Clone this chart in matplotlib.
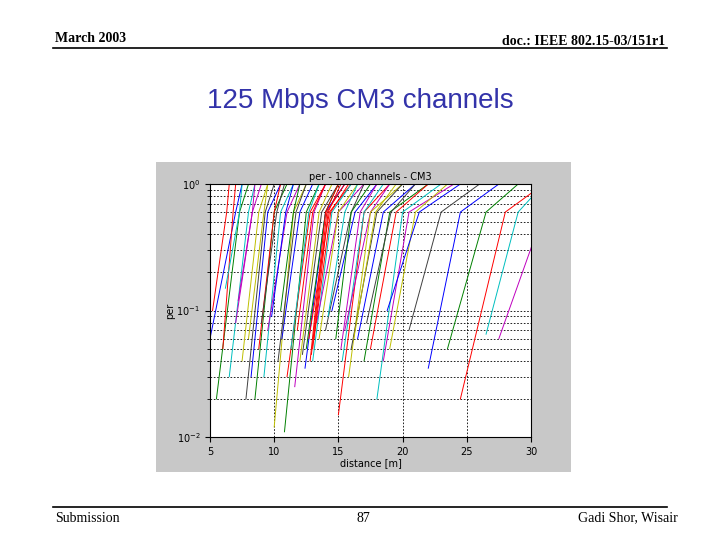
import matplotlib
matplotlib.use("Agg")
import matplotlib.pyplot as plt
from matplotlib.lines import Line2D

# per curve: distance at low PER, low PER value, distance at PER~0.6, distance at PER=1
d_low = [5.0,5.5,6.0,6.5,7.0,7.5,7.8,8.2,8.5,8.8,9.2,9.5,10.0,10.3,10.6,10.8,11.0,11.3,11.6,12.0,
         12.2,12.4,12.5,12.7,13.0,13.3,13.5,14.0,14.5,14.8,15.0,15.3,15.5,15.8,16.0,16.5,17.0,17.5,18.0,18.5,
         19.0,20.5,22.0,23.5,24.5,26.5,27.5,12.8,13.0,12.9,13.1,5.2,6.2,7.2,8.0,9.0,9.8,10.5,11.8,14.2,
         15.2,16.2,17.2,18.8]
p_low = [0.06,0.02,0.05,0.03,0.08,0.04,0.02,0.03,0.02,0.05,0.03,0.07,0.012,0.04,0.06,0.011,0.03,0.05,0.025,0.04,
         0.045,0.035,0.05,0.06,0.04,0.08,0.06,0.07,0.1,0.06,0.015,0.04,0.07,0.03,0.05,0.06,0.04,0.05,0.02,0.04,
         0.05,0.07,0.035,0.05,0.02,0.065,0.06,0.04,0.05,0.045,0.06,0.1,0.15,0.12,0.06,0.08,0.09,0.1,0.07,0.09,
         0.05,0.06,0.08,0.1]
d_knee = [7.0,7.3,6.8,8.0,8.3,8.8,9.3,9.5,10.0,10.0,10.5,11.0,11.5,11.7,12.0,12.5,12.8,12.7,13.1,13.5,
          13.7,14.0,14.0,14.3,14.5,15.0,15.0,16.0,16.3,16.0,17.0,17.0,17.5,17.5,18.0,18.5,19.0,19.5,20.0,20.5,
          21.0,23.0,24.5,26.5,28.0,29.0,31.0,14.0,14.2,14.1,14.4,6.3,7.3,8.3,9.2,10.2,10.9,11.5,13.0,15.5,
          16.7,17.9,19.1,21.3]
d_top = [7.5,8.0,7.0,8.5,9.0,9.5,10.0,10.5,11.0,10.5,11.5,12.0,12.5,12.5,13.0,13.5,14.0,13.5,14.0,14.5,
         15.0,15.5,15.0,16.0,16.0,17.0,16.5,17.0,18.0,17.5,19.0,18.5,19.0,20.0,20.0,21.0,22.0,22.0,23.0,24.0,
         23.5,26.0,27.5,29.0,31.0,31.0,32.0,15.0,15.2,15.5,15.8,6.5,7.5,8.5,9.5,10.8,11.5,12.0,14.0,16.5,
         18.0,19.5,21.0,24.5]
colors = ["#0000ff","#008000","#ff0000","#00bfbf","#bf00bf","#bfbf00","#404040"]

fig = plt.figure(figsize=(7.2, 5.4), dpi=100)
bg = fig.add_axes([156/720, 68/540, 415/720, 310/540])
bg.set_facecolor("#c8c8c8")
bg.set_xticks([]); bg.set_yticks([])
for s in bg.spines.values():
    s.set_visible(False)
ax = fig.add_axes([210/720, 103/540, 321/720, 253/540])
for i in range(len(d_low)):
    c = "#ff0000" if i in (47, 48, 49, 50) else colors[i % len(colors)]
    ax.plot([d_low[i], d_knee[i], d_top[i]], [p_low[i], 0.6, 1.0], color=c, lw=0.7)
ax.set_xlim(5, 30)
ax.set_yscale("log")
ax.set_ylim(0.01, 1)
ax.set_xticks([5, 10, 15, 20, 25, 30])
ax.grid(True, which="both", axis="y", ls=(0, (2, 2)), color="k", lw=0.6)
ax.grid(True, which="major", axis="x", ls=(0, (2, 2)), color="k", lw=0.6)
ax.tick_params(labelsize=7)
ax.set_xlabel("distance [m]", fontsize=7, labelpad=1)
ax.set_ylabel("per", fontsize=7, labelpad=1)
ax.set_title("per - 100 channels - CM3", fontsize=7, pad=3)

fig.text(55/720, 1-38/540, "March 2003", family="Liberation Serif", weight="bold", fontsize=10, va="center")
fig.text(665/720, 1-42/540, "doc.: IEEE 802.15-03/151r1", family="Liberation Serif", weight="bold", fontsize=10, va="center", ha="right")
fig.add_artist(Line2D([53/720, 667/720], [1-48/540, 1-48/540], color="k", lw=1.2, transform=fig.transFigure))
fig.text(360/720, 1-101/540, "125 Mbps CM3 channels", family="Liberation Sans", fontsize=20, color="#3333aa", ha="center", va="center")
fig.add_artist(Line2D([53/720, 667/720], [1-507/540, 1-507/540], color="k", lw=1.2, transform=fig.transFigure))
fig.text(55/720, 1-518/540, "Submission", family="Liberation Serif", fontsize=10, va="center")
fig.text(363/720, 1-518/540, "87", family="Liberation Serif", fontsize=10, va="center", ha="center")
fig.text(678/720, 1-518/540, "Gadi Shor, Wisair", family="Liberation Serif", fontsize=10, va="center", ha="right")
fig.savefig("out.png")
